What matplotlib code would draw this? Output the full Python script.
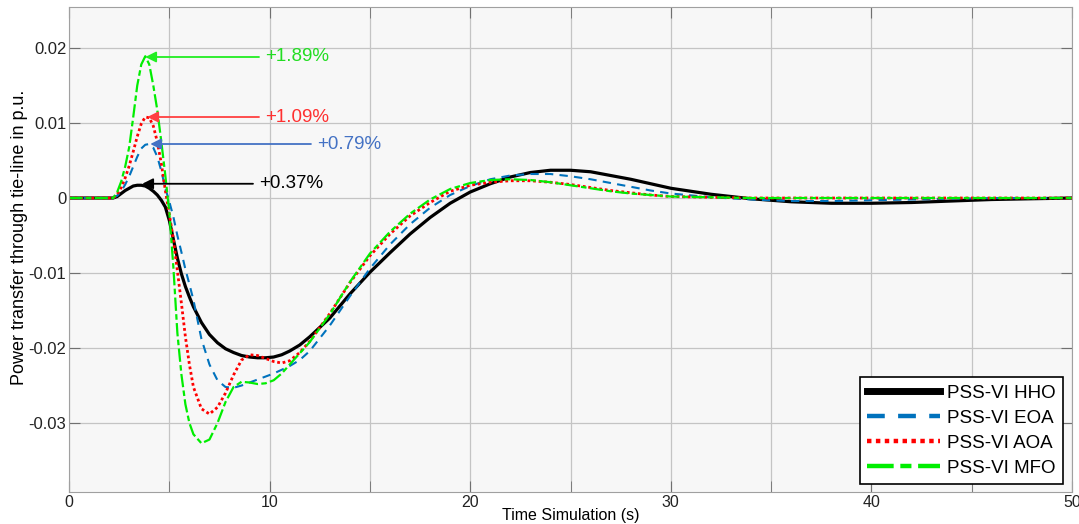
import matplotlib
matplotlib.use("Agg")
import matplotlib.pyplot as plt

plt.rcParams['font.family'] = ['Liberation Sans', 'DejaVu Sans']

# time axis (s)
t = [0, 2.0, 2.2, 2.4, 2.6, 2.8, 3.0, 3.2, 3.4, 3.6, 3.8, 4.0, 4.2, 4.4, 4.6, 4.8,
     5.0, 5.2, 5.4, 5.6, 5.8, 6.0, 6.2, 6.6, 7.0, 7.4, 7.8, 8.2, 8.6, 9.0, 9.4, 9.8,
     10.2, 10.6, 11.0, 11.5, 12, 13, 14, 15, 16, 17, 18, 19, 20, 21, 22, 23, 24, 25,
     26, 27, 28, 29, 30, 32, 34, 36, 38, 40, 42, 44, 46, 48, 50]

hho = [0, 0, 0, 0.0002, 0.0006, 0.0010, 0.0013, 0.0016, 0.0017, 0.0017, 0.0016, 0.0013,
       0.0009, 0.0004, -0.0003, -0.0012, -0.0030, -0.0055, -0.0080, -0.0101, -0.0118,
       -0.0132, -0.0145, -0.0166, -0.0182, -0.0193, -0.0201, -0.0206, -0.0210, -0.0212,
       -0.0213, -0.0213, -0.0212, -0.0209, -0.0204, -0.0196, -0.0185, -0.0160, -0.0128,
       -0.0099, -0.0073, -0.0048, -0.0026, -0.0007, 0.0008, 0.0019, 0.0028, 0.0034,
       0.0037, 0.0037, 0.0035, 0.0030, 0.0025, 0.0019, 0.0013, 0.0005, -0.0001, -0.0005,
       -0.0007, -0.0007, -0.0006, -0.0004, -0.0002, -0.0001, 0]

eoa = [0, 0, 0, 0.0003, 0.0009, 0.0018, 0.0029, 0.0042, 0.0055, 0.0066, 0.0071, 0.0072,
       0.0067, 0.0055, 0.0036, 0.0013, -0.0005, -0.0025, -0.0050, -0.0072, -0.0095,
       -0.0115, -0.0136, -0.0188, -0.0222, -0.0243, -0.0252, -0.0253, -0.0250, -0.0246,
       -0.0242, -0.0238, -0.0234, -0.0229, -0.0224, -0.0216, -0.0204, -0.0170, -0.0131,
       -0.0094, -0.0062, -0.0035, -0.0013, 0.0004, 0.0016, 0.0025, 0.0030, 0.0032,
       0.0032, 0.0029, 0.0025, 0.0020, 0.0015, 0.0010, 0.0006, 0.0001, -0.0002, -0.0004,
       -0.0004, -0.0003, -0.0002, -0.0001, 0, 0, 0]

aoa = [0, 0, 0, 0.0005, 0.0014, 0.0027, 0.0043, 0.0062, 0.0082, 0.0099, 0.0108, 0.0107,
       0.0096, 0.0075, 0.0046, 0.0010, -0.0022, -0.0055, -0.0097, -0.0140, -0.0185,
       -0.0222, -0.0252, -0.0281, -0.0288, -0.0279, -0.0260, -0.0236, -0.0216, -0.0209,
       -0.0210, -0.0214, -0.0218, -0.0220, -0.0217, -0.0206, -0.0191, -0.0154, -0.0113,
       -0.0077, -0.0048, -0.0024, -0.0006, 0.0009, 0.0017, 0.0021, 0.0023, 0.0023,
       0.0021, 0.0018, 0.0014, 0.0010, 0.0007, 0.0004, 0.0002, 0.0001, 0, 0,
       0, 0, 0, 0, 0, 0, 0]

mfo = [0, 0, 0, 0.0008, 0.0022, 0.0042, 0.0068, 0.0108, 0.0150, 0.0178, 0.0189, 0.0178,
       0.0150, 0.0117, 0.0075, 0.0030, -0.0020, -0.0092, -0.0180, -0.0235, -0.0275,
       -0.0300, -0.0315, -0.0327, -0.0322, -0.0300, -0.0272, -0.0252, -0.0245, -0.0246,
       -0.0248, -0.0247, -0.0243, -0.0234, -0.0222, -0.0207, -0.0192, -0.0155, -0.0112,
       -0.0074, -0.0045, -0.0021, -0.0002, 0.0012, 0.0020, 0.0024, 0.0025, 0.0024,
       0.0021, 0.0017, 0.0013, 0.0009, 0.0006, 0.0004, 0.0002, 0.0001, 0, 0,
       0, 0, 0, 0, 0, 0, 0]

series_names = ['PSS-VI HHO', 'PSS-VI EOA', 'PSS-VI AOA', 'PSS-VI MFO']

# overshoot annotations (peak time, peak value, label)
peak_t = [3.8, 3.9, 4.05, 3.65]
peak_y = [0.0188, 0.0108, 0.0072, 0.0019]
peak_labels = ['+1.89%', '+1.09%', '+0.79%', '+0.37%']

xticks = [0, 10, 20, 30, 40, 50]
yticks = [0.02, 0.01, 0, -0.01, -0.02, -0.03]
ytick_labels = ['0.02', '0.01', '0', '-0.01', '-0.02', '-0.03']

fig = plt.figure(figsize=(10.79, 5.24), dpi=100)
ax = fig.add_axes([0.064, 0.061, 0.9295, 0.9247])
ax.set_facecolor('#f7f7f7')

l1, = ax.plot(t, hho, color='black', lw=2.3)
l2, = ax.plot(t, eoa, color='#0072BD', lw=1.5, linestyle=(0, (4, 3)))
l3, = ax.plot(t, aoa, color='red', lw=2, linestyle=(0, (1, 1)))
l4, = ax.plot(t, mfo, color='#00ee00', lw=1.6, linestyle=(0, (6, 1.5, 2.5, 1.5)))

# arrows + labels
arrow_cols = ['#22ee22', '#ff4040', '#4472c4', 'black']
text_cols = ['#22dd22', '#ff3030', '#4472c4', 'black']
text_x = [9.77, 9.77, 12.36, 9.47]
for i in range(4):
    ax.annotate('', xy=(peak_t[i], peak_y[i]), xytext=(text_x[i] - 0.3, peak_y[i]),
                arrowprops=dict(arrowstyle='-|>', color=arrow_cols[i], lw=1.3,
                                mutation_scale=16, shrinkA=0, shrinkB=0))
    ax.text(text_x[i], peak_y[i], peak_labels[i], color=text_cols[i],
            fontsize=13.5, va='center', ha='left')

ax.set_xlim(0, 50)
ax.set_ylim(-0.0392, 0.0254)
ax.set_xticks(xticks)
ax.set_xticks([5, 15, 25, 35, 45], minor=True)
ax.set_yticks(yticks)
ax.set_yticklabels(ytick_labels)
ax.grid(True, which='both', color='#c4c4c4', lw=0.9)
ax.set_axisbelow(True)
ax.tick_params(which='both', direction='in', length=8, top=True, right=True,
               labelsize=11.5, pad=2, color='#707070', labelcolor='#222222')
ax.tick_params(axis='y', labelsize=12)
for s in ax.spines.values():
    s.set_color('#a0a0a0')

ax.set_xlabel('Time Simulation (s)', fontsize=11.5, labelpad=-1)
ax.set_ylabel('Power transfer through tie-line in p.u.', fontsize=13)
ax.yaxis.set_label_coords(-0.041, 0.526)

leg = ax.legend([l1, l2, l3, l4], series_names, loc='lower right', fontsize=13.5,
                fancybox=False, edgecolor='black', framealpha=1, handlelength=3.9,
                borderpad=0.4, labelspacing=0.42, handletextpad=0.35,
                borderaxespad=0, bbox_to_anchor=(0.991, 0.0165))
leg.get_frame().set_linewidth(1.2)
for h, w in zip(leg.get_lines(), [5, 3.2, 3.2, 3.2]):
    h.set_linewidth(w)

fig.savefig('out.png', dpi=100)
